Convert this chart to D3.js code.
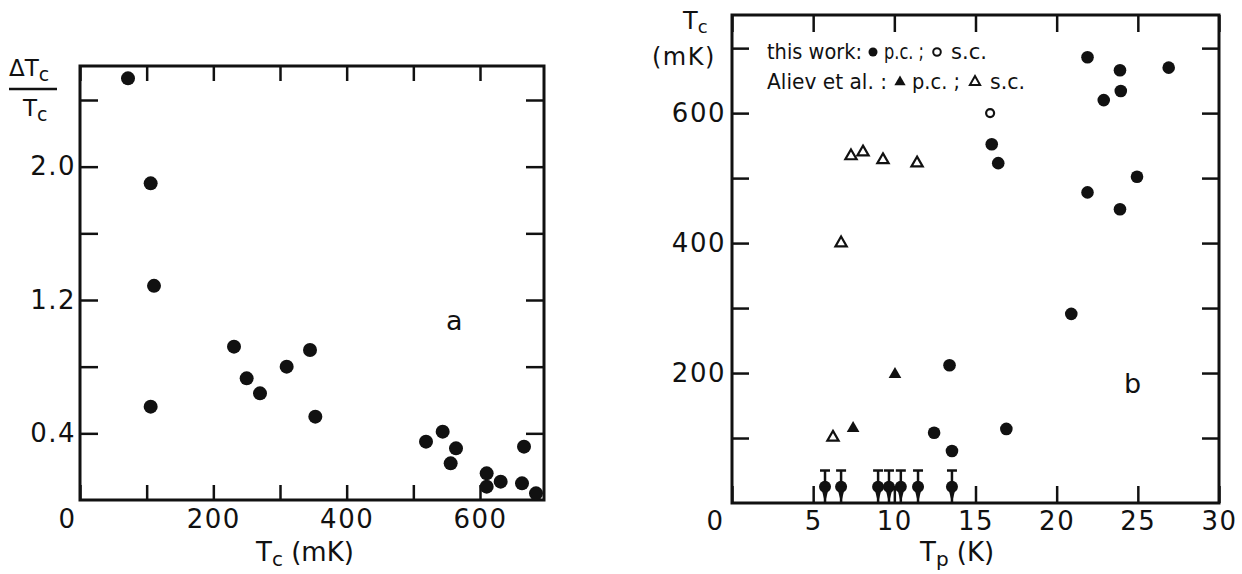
<!DOCTYPE html>
<html>
<head>
<meta charset="utf-8">
<script src="https://cdn.jsdelivr.net/npm/d3@7"></script>
<style>
  body { margin: 0; background: #fff; }
  svg { display: block; }
  text { font-family: "DejaVu Sans", sans-serif; fill: #111; }
</style>
</head>
<body>
<svg id="chart" width="1242" height="574"></svg>
<script>
// panel a: relative width of transition vs Tc
const aTc = [72, 106, 111, 231, 106, 250, 270, 310, 345, 353, 519, 544, 564, 556, 610, 610, 631, 666, 663, 684];
const aWidth = [2.53, 1.90, 1.285, 0.92, 0.56, 0.73, 0.64, 0.80, 0.90, 0.50, 0.35, 0.41, 0.31, 0.22, 0.16, 0.08, 0.11, 0.32, 0.10, 0.04];
const aXTicks = [0, 100, 200, 300, 400, 500, 600];
const aXLabels = [0, 200, 400, 600];
const aYTicks = [0.4, 0.8, 1.2, 1.6, 2.0, 2.4];
const aYLabels = [0.4, 1.2, 2.0];

// panel b: Tc vs Tp
const pcTp = [13.4, 12.45, 13.55, 16.0, 16.4, 16.9, 20.9, 21.9, 23.9, 24.95, 21.9, 23.9, 23.95, 22.9, 26.9];
const pcTc = [212, 108, 80, 552, 523, 114, 291, 478, 452, 502, 686, 666, 634, 620, 670];
const scTp = [15.9];
const scTc = [600];
// upper limits (this work, p.c.)
const limTp = [5.73, 6.72, 9.0, 9.67, 10.4, 11.46, 13.55];
const limTc = [25, 25, 25, 25, 25, 25, 25];
const limTop = [50, 50, 50, 50, 50, 50, 50];
const alievPcTp = [7.46, 10.04];
const alievPcTc = [115, 198];
const alievScTp = [6.22, 6.72, 7.33, 8.07, 9.3, 11.4];
const alievScTc = [101, 400, 534, 540, 528, 523];
const bXTicks = [0, 5, 10, 15, 20, 25, 30];
const bYTicks = [100, 200, 300, 400, 500, 600, 700];
const bYLabels = [200, 400, 600];

const ink = '#111';
const svg = d3.select('#chart');

const xA = d3.scaleLinear().domain([0, 696]).range([80, 544]);
const yA = d3.scaleLinear().domain([0, 2.604]).range([500, 66]);
const xB = d3.scaleLinear().domain([0, 30]).range([732, 1219]);
const yB = d3.scaleLinear().domain([0, 751]).range([503, 15]);

function styleAxis(g, size) {
  g.select('.domain').remove();
  g.selectAll('.tick line').attr('stroke', ink).attr('stroke-width', 2.5);
  g.selectAll('.tick text')
    .attr('font-family', '"DejaVu Sans", sans-serif')
    .attr('font-size', size)
    .attr('letter-spacing', 1.5)
    .attr('fill', ink);
}

function drawFrame(x, y, o) {
  const [l, r] = x.range();
  const [b, t] = y.range();
  const g = svg.append('g');
  g.append('g')
    .attr('transform', `translate(0,${b})`)
    .call(d3.axisBottom(x).tickValues(o.xTicks).tickSizeInner(-o.xLen).tickSizeOuter(0)
      .tickPadding(o.xPad).tickFormat((d) => (o.xLabels.includes(d) ? d : '')))
    .call((a) => styleAxis(a, 26))
    .call((a) => a.selectAll('.tick text').filter((d) => d === 0).attr('dx', o.zeroShift));
  g.append('g')
    .attr('transform', `translate(0,${t})`)
    .call(d3.axisTop(x).tickValues(o.xTicks).tickSizeInner(-o.xLen).tickSizeOuter(0).tickFormat(''))
    .call((a) => styleAxis(a, 26));
  g.append('g')
    .attr('transform', `translate(${l},0)`)
    .call(d3.axisLeft(y).tickValues(o.yTicks).tickSizeInner(-o.yLen).tickSizeOuter(0)
      .tickPadding(o.yPad).tickFormat((d) => (o.yLabels.includes(d) ? o.yFmt(d) : '')))
    .call((a) => styleAxis(a, 26));
  g.append('g')
    .attr('transform', `translate(${r},0)`)
    .call(d3.axisRight(y).tickValues(o.yTicks).tickSizeInner(-o.yLen).tickSizeOuter(0).tickFormat(''))
    .call((a) => styleAxis(a, 26));
  g.append('rect')
    .attr('x', l).attr('y', t)
    .attr('width', r - l).attr('height', b - t)
    .attr('fill', 'none').attr('stroke', ink).attr('stroke-width', 3);
}

drawFrame(xA, yA, {
  xTicks: aXTicks, xLabels: aXLabels, xLen: 15, xPad: 10, zeroShift: -13,
  yTicks: aYTicks, yLabels: aYLabels, yLen: 18, yPad: 4, yFmt: d3.format('.1f'),
});
drawFrame(xB, yB, {
  xTicks: bXTicks, xLabels: bXTicks, xLen: 17, xPad: 9, zeroShift: -17,
  yTicks: bYTicks, yLabels: bYLabels, yLen: 17, yPad: 6, yFmt: (d) => d,
});

// panel a points
svg.append('g')
  .selectAll('circle')
  .data(aTc)
  .join('circle')
  .attr('cx', (d) => xA(d))
  .attr('cy', (d, i) => yA(aWidth[i]))
  .attr('r', 7)
  .attr('fill', ink);

// panel b: upper limits
const lim = svg.append('g').attr('stroke', ink).attr('fill', ink);
limTp.forEach((tp, i) => {
  const cx = xB(tp);
  lim.append('line')
    .attr('x1', cx).attr('x2', cx)
    .attr('y1', yB(limTop[i])).attr('y2', yB(0))
    .attr('stroke-width', 2.5);
  lim.append('line')
    .attr('x1', cx - 5).attr('x2', cx + 5)
    .attr('y1', yB(limTop[i])).attr('y2', yB(limTop[i]))
    .attr('stroke-width', 2.5);
  lim.append('circle')
    .attr('cx', cx).attr('cy', yB(limTc[i])).attr('r', 6)
    .attr('stroke', 'none');
  lim.append('path')
    .attr('d', `M${cx - 4},${yB(limTc[i])} L${cx + 4},${yB(limTc[i])} L${cx},${yB(0)} Z`)
    .attr('stroke', 'none');
});

// panel b: this work p.c.
svg.append('g')
  .selectAll('circle')
  .data(pcTp)
  .join('circle')
  .attr('cx', (d) => xB(d))
  .attr('cy', (d, i) => yB(pcTc[i]))
  .attr('r', 6.3)
  .attr('fill', ink);

// this work s.c.
svg.append('g')
  .selectAll('circle')
  .data(scTp)
  .join('circle')
  .attr('cx', (d) => xB(d))
  .attr('cy', (d, i) => yB(scTc[i]))
  .attr('r', 4)
  .attr('fill', '#fff')
  .attr('stroke', ink)
  .attr('stroke-width', 2.2);

const tri = d3.symbol().type(d3.symbolTriangle);

// Aliev p.c.
svg.append('g')
  .selectAll('path')
  .data(alievPcTp)
  .join('path')
  .attr('transform', (d, i) => `translate(${xB(d)},${yB(alievPcTc[i])})`)
  .attr('d', tri.size(70)())
  .attr('fill', ink);

// Aliev s.c.
svg.append('g')
  .selectAll('path')
  .data(alievScTp)
  .join('path')
  .attr('transform', (d, i) => `translate(${xB(d)},${yB(alievScTc[i])})`)
  .attr('d', tri.size(55)())
  .attr('fill', '#fff')
  .attr('stroke', ink)
  .attr('stroke-width', 2.2);

// legend
const leg = svg.append('g')
  .attr('font-size', 21)
  .attr('font-family', '"DejaVu Sans Condensed", "DejaVu Sans", sans-serif');
const legText = [
  { t: 'this work:', x: 767, y: 59, w: 95 },
  { t: 'p.c. ;', x: 884, y: 59, w: 40 },
  { t: 's.c.', x: 951, y: 59, w: 36 },
  { t: 'Aliev et al. :', x: 767, y: 89, w: 120 },
  { t: 'p.c. ;', x: 912, y: 89, w: 48 },
  { t: 's.c.', x: 990, y: 89, w: 35 },
];
leg.selectAll('text')
  .data(legText)
  .join('text')
  .attr('x', (d) => d.x)
  .attr('y', (d) => d.y)
  .attr('textLength', (d) => d.w)
  .attr('lengthAdjust', 'spacingAndGlyphs')
  .style('font-family', '"DejaVu Sans Condensed", "DejaVu Sans", sans-serif')
  .text((d) => d.t);
leg.append('circle').attr('cx', 873).attr('cy', 52).attr('r', 4.5).attr('fill', ink);
leg.append('circle').attr('cx', 937).attr('cy', 52).attr('r', 3.8)
  .attr('fill', '#fff').attr('stroke', ink).attr('stroke-width', 2);
leg.append('path').attr('transform', 'translate(900,82)').attr('d', tri.size(55)()).attr('fill', ink);
leg.append('path').attr('transform', 'translate(975,82)').attr('d', tri.size(45)())
  .attr('fill', '#fff').attr('stroke', ink).attr('stroke-width', 2);

// axis titles
const lab = svg.append('g').attr('font-size', 26);

// panel a y title: fraction
const fr = svg.append('g').attr('font-size', 23);
fr.append('text').attr('x', 9).attr('y', 76)
  .call((t) => t.append('tspan').text('ΔT'))
  .call((t) => t.append('tspan').attr('dy', 5).attr('font-size', 19).text('c'));
fr.append('line').attr('x1', 9).attr('x2', 57).attr('y1', 89).attr('y2', 89)
  .attr('stroke', ink).attr('stroke-width', 2.5);
fr.append('text').attr('x', 23).attr('y', 116)
  .call((t) => t.append('tspan').text('T'))
  .call((t) => t.append('tspan').attr('dy', 5).attr('font-size', 19).text('c'));

lab.append('text').attr('x', 256).attr('y', 561)
  .call((t) => t.append('tspan').text('T'))
  .call((t) => t.append('tspan').attr('dy', 5).attr('font-size', 20).text('c'))
  .call((t) => t.append('tspan').attr('dy', -5).text(' (mK)'));

lab.append('text').attr('x', 920).attr('y', 561)
  .call((t) => t.append('tspan').text('T'))
  .call((t) => t.append('tspan').attr('dy', 5).attr('font-size', 20).text('p'))
  .call((t) => t.append('tspan').attr('dy', -5).text(' (K)'));

lab.append('text').attr('x', 683).attr('y', 29).attr('font-size', 24)
  .call((t) => t.append('tspan').text('T'))
  .call((t) => t.append('tspan').attr('dy', 4).attr('font-size', 18).text('c'));
lab.append('text').attr('x', 652).attr('y', 65).attr('font-size', 24)
  .attr('letter-spacing', 1.5).text('(mK)');

// panel letters
lab.append('text').attr('x', 446).attr('y', 330).attr('font-size', 27).text('a');
lab.append('text').attr('x', 1124).attr('y', 393).attr('font-size', 27).text('b');
</script>
</body>
</html>
